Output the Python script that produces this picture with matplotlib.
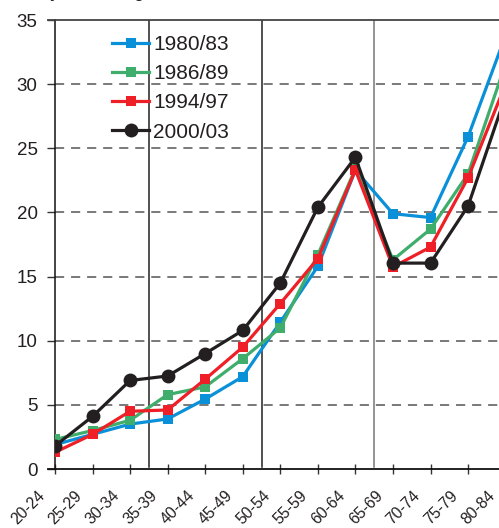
import matplotlib
matplotlib.use("Agg")
import matplotlib.pyplot as plt
import matplotlib.transforms as mtransforms

plt.rcParams['font.family'] = ['Liberation Sans', 'DejaVu Sans']

age_groups = ["20-24", "25-29", "30-34", "35-39", "40-44", "45-49", "50-54",
              "55-59", "60-64", "65-69", "70-74", "75-79", "80-84"]
s1980 = [1.9, 2.7, 3.5, 3.9, 5.45, 7.2, 11.45, 15.8, 23.3, 19.9, 19.6, 25.9, 33.8]
s1986 = [2.3, 3.0, 3.8, 5.8, 6.4, 8.6, 11.0, 16.7, 23.4, 16.3, 18.7, 23.0, 31.6]
s1994 = [1.3, 2.7, 4.5, 4.6, 7.0, 9.5, 12.9, 16.4, 23.3, 15.75, 17.3, 22.7, 30.0]
s2000 = [1.8, 4.1, 6.9, 7.25, 9.0, 10.8, 14.5, 20.4, 24.3, 16.05, 16.05, 20.5, 29.1]
series_labels = ["1980/83", "1986/89", "1994/97", "2000/03"]
y_ticks = [0, 5, 10, 15, 20, 25, 30, 35]
separators = [2.5, 5.5, 8.5]

W, H = 499, 528
fig = plt.figure(figsize=(W / 100, H / 100), dpi=100)
left_px, right_px, bottom_px, top_px = 55, 55 + 12.5 * 37.55, 469, 20
ax = fig.add_axes([left_px / W, (H - bottom_px) / H,
                   (right_px - left_px) / W, (bottom_px - top_px) / H])

x = list(range(len(age_groups)))
colors = ["#0a90d8", "#3fae6c", "#ee1f26", "#231f20"]
markers = ["s", "s", "s", "o"]
msizes = [7, 7, 7, 10]
for vals, lab, c, m, ms, z in zip([s1980, s1986, s1994, s2000], series_labels,
                                   colors, markers, msizes, [3, 4, 5, 6]):
    ax.plot(x, vals, color=c, lw=2.3, marker=m, markersize=ms,
            markeredgewidth=0, label=lab, zorder=z)

for i, sx in enumerate(separators):
    ax.axvline(sx, ymin=2 / 449, ymax=1, color="#222222" if i < 2 else "#777777",
               lw=1.1, zorder=1)

for yv in y_ticks[1:-1]:
    ax.axhline(yv, color="#555555", lw=1.1, ls=(0, (6, 4.5)), zorder=0.5)

ax.set_xlim(0, 12.5)
ax.set_ylim(0, 35)
ax.set_yticks(y_ticks)
ax.set_xticks(x)
ax.tick_params(axis="y", direction="out", length=5.5, width=1.0, color="#333333",
               labelsize=13.5, labelcolor="#231f20", pad=7)
ax.tick_params(axis="x", direction="inout", length=7.5, width=1.0, color="#333333",
               pad=4)
ax.set_xticklabels(age_groups, rotation=45, ha="right", va="top",
                   rotation_mode="anchor", fontsize=11.3, color="#231f20")
offset = mtransforms.ScaledTranslation(-18 / 100, -8 / 100, fig.dpi_scale_trans)
for lbl in ax.get_xticklabels():
    lbl.set_transform(lbl.get_transform() + offset)

ax.spines["right"].set_visible(False)
ax.spines["top"].set_color("#444444")
ax.spines["top"].set_linewidth(1.3)
ax.spines["left"].set_color("#111111")
ax.spines["left"].set_linewidth(1.1)
ax.spines["bottom"].set_color("#111111")
ax.spines["bottom"].set_linewidth(1.3)

# extend x-axis and top line a little to the left like the reference
ax.plot([-0.19, 0], [0, 0], color="#111111", lw=1.3, clip_on=False)
ax.plot([-0.19, 0], [35, 35], color="#444444", lw=1.3, clip_on=False)

leg = ax.legend(loc="upper left", bbox_to_anchor=(112 / W, 1 - 35 / H),
                bbox_transform=fig.transFigure, frameon=False,
                fontsize=15, handlelength=1.78, handletextpad=0.2,
                labelspacing=0.49, borderaxespad=0.0, borderpad=0.0)
for t in leg.get_texts():
    t.set_color("#231f20")

# title (mostly cut off at the top of the image)
fig.canvas.draw()
r = fig.canvas.get_renderer()
tmp = fig.text(0, 0, "Rates b", fontsize=10.8, fontweight="bold")
w = tmp.get_window_extent(r).width
tmp.remove()
fig.text((50 - w) / W, 1 + 1.6 / H, "Rates by Sex and Age", fontsize=10.8,
         fontweight="bold", va="baseline", ha="left", color="#231f20")

fig.savefig("out.png", dpi=100)
